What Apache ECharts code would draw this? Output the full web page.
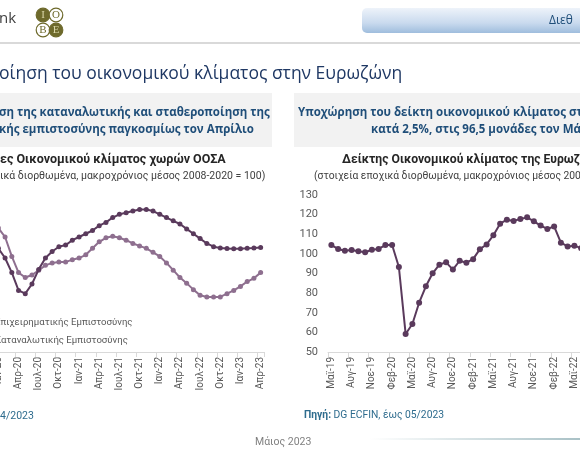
<!DOCTYPE html>
<html><head><meta charset="utf-8">
<script src="https://cdn.jsdelivr.net/npm/echarts@6/dist/echarts.min.js"></script>
<style>html,body{margin:0;padding:0;background:#fff}#c{width:580px;height:460px}</style>
</head><body><div id="c"></div>
<script>
// ---- Left chart: OECD confidence indices (Jan-20 .. Apr-23) ----
const leftCategories = ['Ιαν-20','Φεβ-20','Μαρ-20','Απρ-20','Μαϊ-20','Ιουν-20','Ιουλ-20','Αυγ-20','Σεπ-20','Οκτ-20','Νοε-20','Δεκ-20',
  'Ιαν-21','Φεβ-21','Μαρ-21','Απρ-21','Μαϊ-21','Ιουν-21','Ιουλ-21','Αυγ-21','Σεπ-21','Οκτ-21','Νοε-21','Δεκ-21',
  'Ιαν-22','Φεβ-22','Μαρ-22','Απρ-22','Μαϊ-22','Ιουν-22','Ιουλ-22','Αυγ-22','Σεπ-22','Οκτ-22','Νοε-22','Δεκ-22',
  'Ιαν-23','Φεβ-23','Μαρ-23','Απρ-23'];
const businessConfidence = [99.4,98.8,97.9,96.8,96.6,97.2,98.1,98.8,99.2,99.5,99.6,99.9,
  100.1,100.3,100.5,100.8,101.0,101.3,101.5,101.6,101.7,101.8,101.8,101.7,
  101.5,101.3,101.1,100.9,100.6,100.3,100.0,99.7,99.5,99.42,99.39,99.38,
  99.38,99.40,99.42,99.45];
const consumerConfidence = [100.65,100.1,98.9,97.9,97.6,97.75,98.05,98.35,98.5,98.55,98.55,98.7,
  98.8,99.0,99.4,99.8,100.05,100.15,100.05,99.9,99.7,99.55,99.4,99.15,
  98.9,98.5,98.05,97.6,97.25,96.85,96.5,96.4,96.4,96.4,96.6,96.8,
  97.05,97.35,97.55,97.9];
const leftSeriesNames = ['Επιχειρηματικής Εμπιστοσύνης','Καταναλωτικής Εμπιστοσύνης'];

// ---- Right chart: Euro area Economic Sentiment Indicator (May-19 .. Jun-22 visible) ----
const rightCategories = ['Μαϊ-19','Ιουν-19','Ιουλ-19','Αυγ-19','Σεπ-19','Οκτ-19','Νοε-19','Δεκ-19',
  'Ιαν-20','Φεβ-20','Μαρ-20','Απρ-20','Μαϊ-20','Ιουν-20','Ιουλ-20','Αυγ-20','Σεπ-20','Οκτ-20','Νοε-20','Δεκ-20',
  'Ιαν-21','Φεβ-21','Μαρ-21','Απρ-21','Μαϊ-21','Ιουν-21','Ιουλ-21','Αυγ-21','Σεπ-21','Οκτ-21','Νοε-21','Δεκ-21',
  'Ιαν-22','Φεβ-22','Μαρ-22','Απρ-22','Μαϊ-22','Ιουν-22'];
const euroAreaESI = [104.5,102.5,101.6,102.0,101.3,100.8,102.1,102.5,
  104.5,104.5,93.3,59.2,64.3,75.1,83.5,90.1,94.5,95.7,92.0,96.5,
  95.5,97.3,102.4,104.8,109.5,115.4,117.4,116.8,117.8,118.6,116.6,114.4,
  112.7,114.0,105.7,103.8,104.2,102.9];
const rightYMin = 50, rightYMax = 130, rightYStep = 10;

const DARK = '#5A3A5C', LIGHT = '#8E6F8F';
const FONT = 'Roboto';
const OS = '"Open Sans"';

const chart = echarts.init(document.getElementById('c'), null, {renderer: 'canvas'});

function txt(text, x, y, font, fill) {
  return {type: 'text', silent: true, style: {text, x, y, font, fill, textAlign: 'left', textVerticalAlign: 'middle'}};
}
function circ(cx, cy, filled) {
  return {type: 'circle', silent: true, shape: {cx, cy, r: 6.8},
    style: {fill: filled ? '#6E6A2C' : '#ffffff', stroke: '#6E6A2C', lineWidth: 1.2}};
}
function letter(ch, x, y, filled) {
  return {type: 'text', silent: true, style: {text: ch, x, y, font: '11px "Liberation Serif"', fill: filled ? '#D9D6A8' : '#6E6A2C', textAlign: 'center', textVerticalAlign: 'middle'}};
}

const axisCommon = {
  type: 'category', boundaryGap: true,
  axisLine: {show: true, lineStyle: {color: '#D9D9D9', width: 1}},
  axisTick: {show: true, interval: 2, length: 5, lineStyle: {color: '#D9D9D9'}},
  axisLabel: {interval: 2, rotate: 90, margin: 5, fontSize: 10, color: '#595959', fontFamily: FONT},
  splitLine: {show: false}
};

const option = {
  animation: false,
  backgroundColor: '#ffffff',
  textStyle: {fontFamily: FONT},
  grid: [
    {left: -5, top: 190, width: 269, height: 162, outerBoundsMode: 'none', containLabel: false},
    {left: 328, top: 195, width: 256.5, height: 157, outerBoundsMode: 'none', containLabel: false}
  ],
  xAxis: [
    Object.assign({}, axisCommon, {gridIndex: 0, data: leftCategories}),
    Object.assign({}, axisCommon, {gridIndex: 1, data: rightCategories})
  ],
  yAxis: [
    {type: 'value', gridIndex: 0, min: 93, max: 103, show: false, splitLine: {show: false}},
    {type: 'value', gridIndex: 1, min: rightYMin, max: rightYMax, interval: rightYStep,
      axisLine: {show: false}, axisTick: {show: false}, splitLine: {show: false},
      axisLabel: {color: '#595959', fontSize: 11, margin: 10, fontFamily: FONT}}
  ],
  legend: {
    orient: 'vertical', left: -36, top: 317, padding: 0, itemGap: 6,
    itemWidth: 25, itemHeight: 8,
    textStyle: {fontSize: 9.6, lineHeight: 12, color: '#595959', fontFamily: FONT},
    data: leftSeriesNames
  },
  series: [
    {name: leftSeriesNames[0], type: 'line', xAxisIndex: 0, yAxisIndex: 0, data: businessConfidence,
      symbol: 'circle', symbolSize: 5, showAllSymbol: true, color: DARK,
      lineStyle: {color: DARK, width: 2}, itemStyle: {color: DARK, borderWidth: 0}, z: 3},
    {name: leftSeriesNames[1], type: 'line', xAxisIndex: 0, yAxisIndex: 0, data: consumerConfidence,
      symbol: 'circle', symbolSize: 5, showAllSymbol: true, color: LIGHT,
      lineStyle: {color: LIGHT, width: 2}, itemStyle: {color: LIGHT, borderWidth: 0}, z: 2},
    {name: 'Δείκτης Οικονομικού Κλίματος', type: 'line', xAxisIndex: 1, yAxisIndex: 1, data: euroAreaESI,
      symbol: 'circle', symbolSize: 6, showAllSymbol: true, color: DARK,
      lineStyle: {color: DARK, width: 2}, itemStyle: {color: DARK, borderWidth: 0}}
  ],
  graphic: [
    // header
    txt('nk', -1, 19, '15px ' + OS, '#404040'),
    circ(43, 15, true), circ(56, 15, false), circ(43, 30, false), circ(56, 30, true),
    letter('I', 43, 15, true), letter('O', 56, 15, false), letter('B', 43, 30, false), letter('E', 56, 30, true),
    {type: 'rect', silent: true, shape: {x: 362, y: 8, width: 230, height: 25, r: [5, 0, 0, 5]},
      style: {fill: {type: 'linear', x: 0, y: 0, x2: 0, y2: 1, colorStops: [
        {offset: 0, color: '#EEF3FA'}, {offset: 0.6, color: '#C9DAEE'}, {offset: 1, color: '#9FBDDD'}]}}},
    txt('Διεθ', 549, 21, '12px ' + OS, '#1F4E79'),
    {type: 'rect', silent: true, shape: {x: 0, y: 42, width: 580, height: 2}, style: {fill: '#D9D9D9'}},
    txt('οίηση του οικονομικού κλίματος στην Ευρωζώνη', -1, 74, '17.5px ' + OS, '#1F3864'),
    // highlight boxes
    {type: 'rect', silent: true, shape: {x: 0, y: 93, width: 272, height: 54}, style: {fill: '#F2F2F2'}},
    {type: 'rect', silent: true, shape: {x: 294, y: 93, width: 290, height: 54}, style: {fill: '#F2F2F2'}},
    txt('ση της καταναλωτικής και σταθεροποίηση της', -1, 113, 'bold 11.5px ' + OS, '#1F4E79'),
    txt('κής εμπιστοσύνης παγκοσμίως τον Απρίλιο', -1, 130, 'bold 11.5px ' + OS, '#1F4E79'),
    txt('Υποχώρηση του δείκτη οικονομικού κλίματος στ', 298, 113, 'bold 11.5px ' + OS, '#1F4E79'),
    txt('κατά 2,5%, στις 96,5 μονάδες τον Μά', 371, 130, 'bold 11.5px ' + OS, '#1F4E79'),
    // chart titles
    txt('ες Οικονομικού κλίματος χωρών ΟΟΣΑ', 0, 160, 'bold 12.5px ' + FONT, '#262626'),
    txt('ικά διορθωμένα, μακροχρόνιος μέσος 2008-2020 = 100)', 0, 176, '10.5px ' + FONT, '#404040'),
    txt('Δείκτης Οικονομικού κλίματος της Ευρωζ', 342, 160, 'bold 12.2px ' + FONT, '#262626'),
    txt('(στοιχεία εποχικά διορθωμένα, μακροχρόνιος μέσος 2000', 314, 176, '10.3px ' + FONT, '#404040'),
    // sources
    txt('4/2023', 0, 416, '10.5px ' + FONT, '#2E6C8E'),
    {type: 'text', silent: true, style: {text: '{b|Πηγή:} DG ECFIN, έως 05/2023', x: 304, y: 415,
      font: '10.3px ' + FONT, fill: '#2E6C8E', textAlign: 'left', textVerticalAlign: 'middle',
      rich: {b: {fontWeight: 'bold', fontSize: 10.3, fontFamily: FONT, fill: '#2E6C8E', color: '#2E6C8E'}}}},
    // footer
    {type: 'rect', silent: true, shape: {x: 370, y: 438, width: 210, height: 2},
      style: {fill: {type: 'linear', x: 0, y: 0, x2: 1, y2: 0, colorStops: [
        {offset: 0, color: 'rgba(170,195,200,0)'}, {offset: 1, color: '#A9C1C6'}]}}},
    txt('Μάιος 2023', 255, 442, '10.5px ' + FONT, '#808080')
  ]
};
chart.setOption(option);
</script></body></html>
